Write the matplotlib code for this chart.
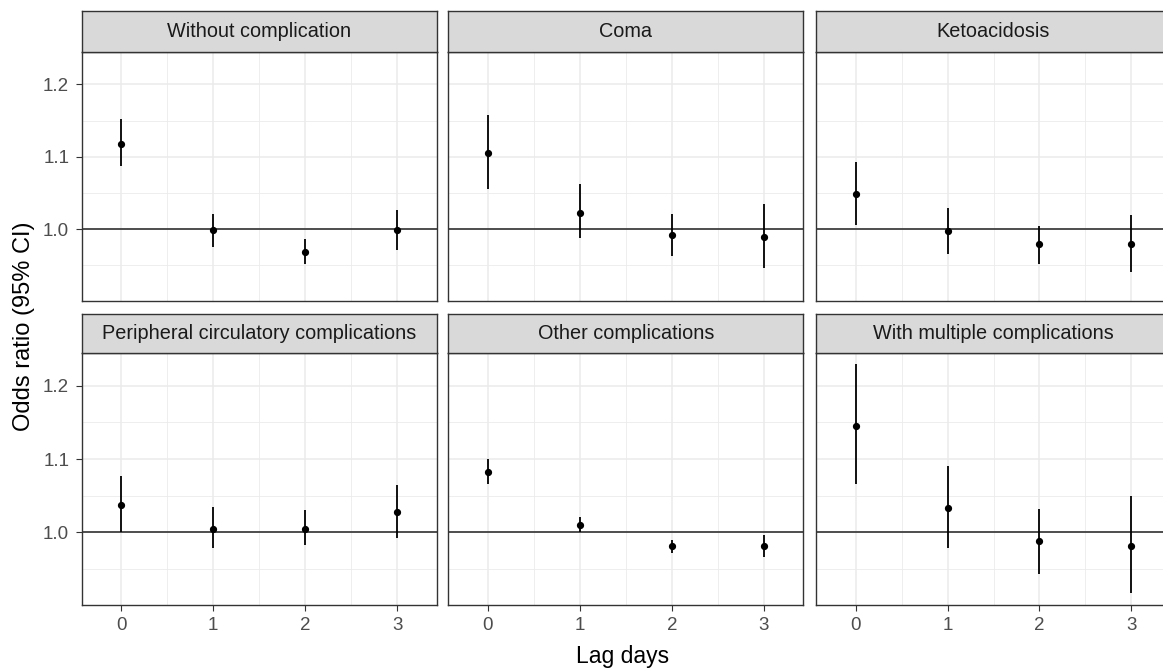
import matplotlib
matplotlib.use("Agg")
import matplotlib.pyplot as plt
from matplotlib.ticker import FixedLocator

plt.rcParams['font.family'] = ['Liberation Sans', 'DejaVu Sans']

# Data
panels = ["Without complication", "Coma", "Ketoacidosis",
          "Peripheral circulatory complications", "Other complications",
          "With multiple complications"]
lags = [0, 1, 2, 3]
odds = [
    [1.118, 0.999, 0.969, 0.999],
    [1.105, 1.023, 0.992, 0.990],
    [1.048, 0.997, 0.979, 0.979],
    [1.037, 1.005, 1.005, 1.028],
    [1.082, 1.010, 0.981, 0.981],
    [1.145, 1.033, 0.988, 0.981],
]
lower = [
    [1.087, 0.976, 0.952, 0.972],
    [1.056, 0.988, 0.963, 0.947],
    [1.006, 0.966, 0.952, 0.941],
    [1.000, 0.979, 0.983, 0.992],
    [1.066, 1.000, 0.972, 0.967],
    [1.066, 0.979, 0.943, 0.918],
]
upper = [
    [1.152, 1.021, 0.987, 1.026],
    [1.158, 1.062, 1.021, 1.035],
    [1.093, 1.030, 1.005, 1.019],
    [1.077, 1.035, 1.030, 1.064],
    [1.100, 1.021, 0.989, 0.996],
    [1.230, 1.090, 1.032, 1.050],
]

W, H = 1163, 670
fig = plt.figure(figsize=(W / 100, H / 100), dpi=100)
fig.patch.set_facecolor("white")

col_left = [81.7, 448.3, 816.0]
pw = 355.0
rows = [(51.7, 301.0, 10.7), (352.7, 605.0, 314.0)]  # panel top, panel bottom, strip top

border = "#333333"
for i, name in enumerate(panels):
    r, c = divmod(i, 3)
    ptop, pbot, stop = rows[r]
    x0 = col_left[c]
    ax = fig.add_axes([x0 / W, 1 - pbot / H, pw / W, (pbot - ptop) / H])
    sax = fig.add_axes([x0 / W, 1 - ptop / H, pw / W, (ptop - stop) / H])

    # strip
    sax.set_facecolor("#D9D9D9")
    sax.set_xticks([])
    sax.set_yticks([])
    for s in sax.spines.values():
        s.set_color(border)
        s.set_linewidth(1.0)
    sax.text(0.5, 0.5, name, ha="center", va="center", fontsize=14.3,
             color="#1A1A1A", transform=sax.transAxes)

    # panel
    ax.set_xlim(-0.43, 3.43)
    ax.set_ylim(0.901, 1.245)
    ax.xaxis.set_major_locator(FixedLocator(lags))
    ax.xaxis.set_minor_locator(FixedLocator([0.5, 1.5, 2.5]))
    ax.yaxis.set_major_locator(FixedLocator([1.0, 1.1, 1.2]))
    ax.yaxis.set_minor_locator(FixedLocator([0.95, 1.05, 1.15]))
    ax.grid(which="major", color="#EBEBEB", linewidth=1.1)
    ax.grid(which="minor", color="#EBEBEB", linewidth=0.6)
    ax.set_axisbelow(True)
    for s in ax.spines.values():
        s.set_color(border)
        s.set_linewidth(1.0)
    ax.tick_params(which="minor", length=0)
    ax.tick_params(which="major", length=4.5, width=0.8, color=border,
                   labelcolor="#4D4D4D", labelsize=13.5, pad=4.5)

    ax.axhline(1.0, color="#222222", linewidth=1.1, zorder=2)
    for k, lag in enumerate(lags):
        ax.plot([lag, lag], [lower[i][k], upper[i][k]], color="black",
                linewidth=1.3, solid_capstyle="butt", zorder=3)
    ax.plot(lags, odds[i], "o", color="black", markersize=4.2, zorder=4)

    if c != 0:
        ax.tick_params(axis="y", labelleft=False, length=0)
    if r == 0:
        ax.tick_params(axis="x", labelbottom=False, length=0)
    else:
        ax.set_xticklabels([str(v) for v in lags])
    if c == 0:
        ax.set_yticklabels(["1.0", "1.1", "1.2"])

fig.text(623 / W, 1 - 656 / H, "Lag days", ha="center", va="center",
         fontsize=16.5, color="black")
fig.text(24 / W, 1 - 326 / H, "Odds ratio (95% CI)", ha="center", va="center",
         rotation=90, fontsize=17, color="black")

fig.savefig("out.png", dpi=100, facecolor="white")
